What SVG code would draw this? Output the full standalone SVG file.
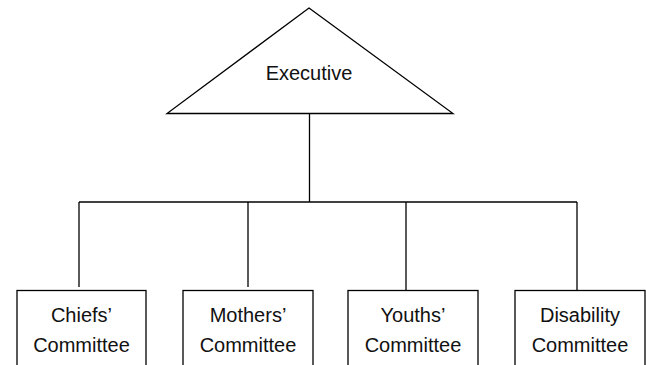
<svg xmlns="http://www.w3.org/2000/svg" width="646" height="365" viewBox="0 0 646 365">
<style>
.shape{fill:#fff;stroke:#000;stroke-width:1.3}
.line{fill:none;stroke:#000;stroke-width:1.3}
text{font-family:"Liberation Sans",Arial,sans-serif;font-size:20px;fill:#111;text-anchor:middle}
</style>
<rect width="646" height="365" fill="#fff"/>
<g id="connectors">
<line class="line" x1="309.5" y1="113.5" x2="309.5" y2="202"/>
<line class="line" x1="79" y1="202" x2="577" y2="202"/>
<line class="line" x1="79" y1="202" x2="79" y2="287"/>
<line class="line" x1="248" y1="202" x2="248" y2="287"/>
<line class="line" x1="406" y1="202" x2="406" y2="290"/>
<line class="line" x1="577" y1="202" x2="577" y2="290"/>
</g>
<g id="executive">
<polygon class="shape" points="309,8 453,113.5 167,113.5"/>
<text x="309" y="80">Executive</text>
</g>
<g id="chiefs">
<rect class="shape" x="17" y="290.5" width="129" height="90"/>
<text x="81.5" y="322">Chiefs’</text>
<text x="81.5" y="352">Committee</text>
</g>
<g id="mothers">
<rect class="shape" x="183" y="290.5" width="130" height="90"/>
<text x="248" y="322">Mothers’</text>
<text x="248" y="352">Committee</text>
</g>
<g id="youths">
<rect class="shape" x="348" y="290.5" width="130" height="90"/>
<text x="413" y="322">Youths’</text>
<text x="413" y="352">Committee</text>
</g>
<g id="disability">
<rect class="shape" x="515" y="290.5" width="130" height="90"/>
<text x="580" y="322">Disability</text>
<text x="580" y="352">Committee</text>
</g>
</svg>
